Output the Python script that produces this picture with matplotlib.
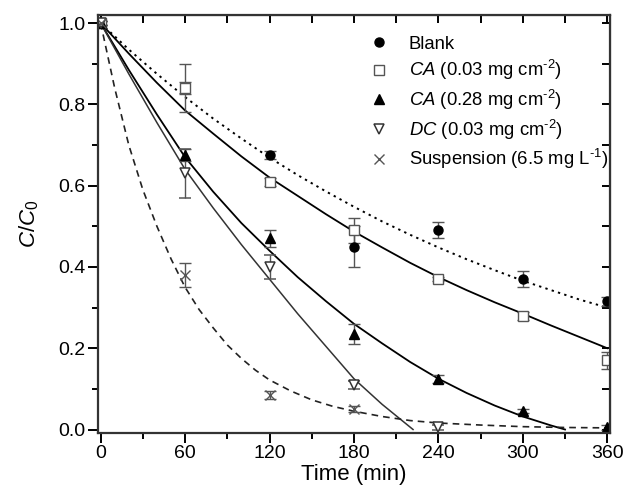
import matplotlib
matplotlib.use("Agg")
import matplotlib.pyplot as plt
from matplotlib.lines import Line2D
from matplotlib.ticker import MultipleLocator

plt.rcParams["font.family"] = ["Liberation Sans", "DejaVu Sans"]
plt.rcParams["mathtext.fontset"] = "custom"
plt.rcParams["mathtext.rm"] = "Liberation Sans"
plt.rcParams["mathtext.it"] = "Liberation Sans:italic"

# measured points (time in min, C/C0, error)
t_blank = [0, 60, 120, 180, 240, 300, 360]
y_blank = [1.0, 0.84, 0.676, 0.45, 0.49, 0.37, 0.315]
e_blank = [0.005, 0.06, 0.01, 0.05, 0.02, 0.02, 0.01]

t_ca03 = [0, 60, 120, 180, 240, 300, 360]
y_ca03 = [1.0, 0.84, 0.61, 0.49, 0.37, 0.28, 0.17]
e_ca03 = [0.005, 0.015, 0.01, 0.03, 0.005, 0.01, 0.02]

t_ca28 = [0, 60, 120, 180, 240, 300, 360]
y_ca28 = [1.0, 0.675, 0.47, 0.235, 0.125, 0.045, 0.005]
e_ca28 = [0.005, 0.015, 0.02, 0.025, 0.01, 0.005, 0.005]

t_dc = [0, 60, 120, 180, 240]
y_dc = [1.0, 0.63, 0.40, 0.11, 0.005]
e_dc = [0.005, 0.06, 0.03, 0.01, 0.005]

t_susp = [0, 60, 120, 180]
y_susp = [1.0, 0.38, 0.085, 0.05]
e_susp = [0.005, 0.03, 0.01, 0.008]

labels = [
    "Blank",
    r"$\it{CA}$ (0.03 mg cm$^{\text{-2}}$)",
    r"$\it{CA}$ (0.28 mg cm$^{\text{-2}}$)",
    r"$\it{DC}$ (0.03 mg cm$^{\text{-2}}$)",
    r"Suspension (6.5 mg L$^{\text{-1}}$)",
]

# fitted curves
fit_t = [0, 20, 40, 60, 80, 100, 120, 140, 160, 180, 200, 220, 240, 260, 280, 300, 320, 340, 360]
fit_blank = [1.0, 0.935, 0.875, 0.818, 0.765, 0.716, 0.669, 0.626, 0.586, 0.548,
             0.512, 0.479, 0.448, 0.419, 0.392, 0.366, 0.343, 0.320, 0.30]
fit_ca03 = [1.0, 0.925, 0.853, 0.785, 0.728, 0.672, 0.62, 0.575, 0.530, 0.487,
            0.448, 0.410, 0.375, 0.343, 0.313, 0.285, 0.256, 0.228, 0.20]

fit_ca28_t = [0, 20, 40, 60, 80, 100, 120, 140, 160, 180, 200, 220, 240, 260, 280, 300, 320, 330]
fit_ca28 = [1.0, 0.885, 0.775, 0.67, 0.585, 0.508, 0.44, 0.375, 0.316, 0.26,
            0.212, 0.166, 0.125, 0.090, 0.059, 0.032, 0.010, 0.0]

fit_dc_t = [0, 20, 40, 60, 80, 100, 120, 140, 160, 180, 200, 222]
fit_dc = [1.0, 0.875, 0.755, 0.64, 0.545, 0.455, 0.37, 0.285, 0.205, 0.125, 0.062, 0.0]

fit_susp_t = [0, 10, 20, 30, 40, 50, 60, 70, 80, 90, 100, 110, 120, 135, 150, 165, 180,
              200, 220, 240, 270, 300, 330, 360]
fit_susp = [1.0, 0.84, 0.70, 0.59, 0.50, 0.42, 0.35, 0.295, 0.25, 0.208, 0.175, 0.146,
            0.122, 0.095, 0.073, 0.057, 0.045, 0.032, 0.022, 0.016, 0.011, 0.007, 0.005, 0.004]


def main() -> None:
    fig = plt.figure(figsize=(6.27, 4.98), dpi=100)
    ax = fig.add_axes([0.156, 0.131, 0.817, 0.839])

    ax.plot(fit_t, fit_blank, color="black", lw=1.4, ls=(0, (1.2, 2.2)))
    ax.plot(fit_t, fit_ca03, color="black", lw=1.3)
    ax.plot(fit_ca28_t, fit_ca28, color="black", lw=1.3)
    ax.plot(fit_dc_t, fit_dc, color="#333333", lw=1.1)
    ax.plot(fit_susp_t, fit_susp, color="#222222", lw=1.2, ls=(0, (4, 3)))

    styles = [
        dict(marker="o", ms=6.5, mfc="black", mec="black"),
        dict(marker="s", ms=6.5, mfc="white", mec="#555555", mew=1.0),
        dict(marker="^", ms=7.5, mfc="black", mec="black"),
        dict(marker="v", ms=7.5, mfc="white", mec="#333333", mew=1.1),
        dict(marker="x", ms=7.5, mfc="none", mec="#555555", mew=1.0),
    ]
    series = [
        (t_blank, y_blank, e_blank),
        (t_ca03, y_ca03, e_ca03),
        (t_ca28, y_ca28, e_ca28),
        (t_dc, y_dc, e_dc),
        (t_susp, y_susp, e_susp),
    ]
    handles = []
    for (tt, yy, ee), st in zip(series, styles):
        ax.errorbar(tt, yy, yerr=ee, ls="none", ecolor="#555555", elinewidth=1.0,
                    capsize=4, capthick=1.0, **st)
        handles.append(Line2D([], [], ls="none", **st))

    ax.set_xlim(-2, 362)
    ax.set_ylim(-0.008, 1.02)
    ax.xaxis.set_major_locator(MultipleLocator(60))
    ax.xaxis.set_minor_locator(MultipleLocator(30))
    ax.yaxis.set_major_locator(MultipleLocator(0.2))
    ax.yaxis.set_minor_locator(MultipleLocator(0.1))
    ax.yaxis.set_major_formatter(plt.FormatStrFormatter("%.1f"))
    ax.tick_params(which="major", direction="out", length=7, width=1.4, labelsize=14, pad=2)
    ax.tick_params(which="minor", direction="out", length=4, width=1.4)
    for sp in ax.spines.values():
        sp.set_linewidth(1.6)
        sp.set_color("#333333")

    top = ax.secondary_xaxis("top")
    top.xaxis.set_major_locator(MultipleLocator(30))
    top.tick_params(direction="in", length=6, width=1.4, labeltop=False)
    right = ax.secondary_yaxis("right")
    right.yaxis.set_major_locator(MultipleLocator(0.1))
    right.tick_params(direction="in", length=6, width=1.4, labelright=False)

    ax.set_xlabel("Time (min)", fontsize=16, labelpad=1)
    ax.set_ylabel(r"$\it{C/C}_{\rm 0}$", fontsize=16, labelpad=12)

    ax.legend(handles, labels, loc="upper right", frameon=False, fontsize=13.3,
              handletextpad=1.0, labelspacing=0.3, borderaxespad=0.0, borderpad=0.1,
              bbox_to_anchor=(1.0, 0.955), handlelength=1.2)

    fig.savefig("out.png", dpi=100)
    plt.close(fig)


if __name__ == "__main__":
    main()
